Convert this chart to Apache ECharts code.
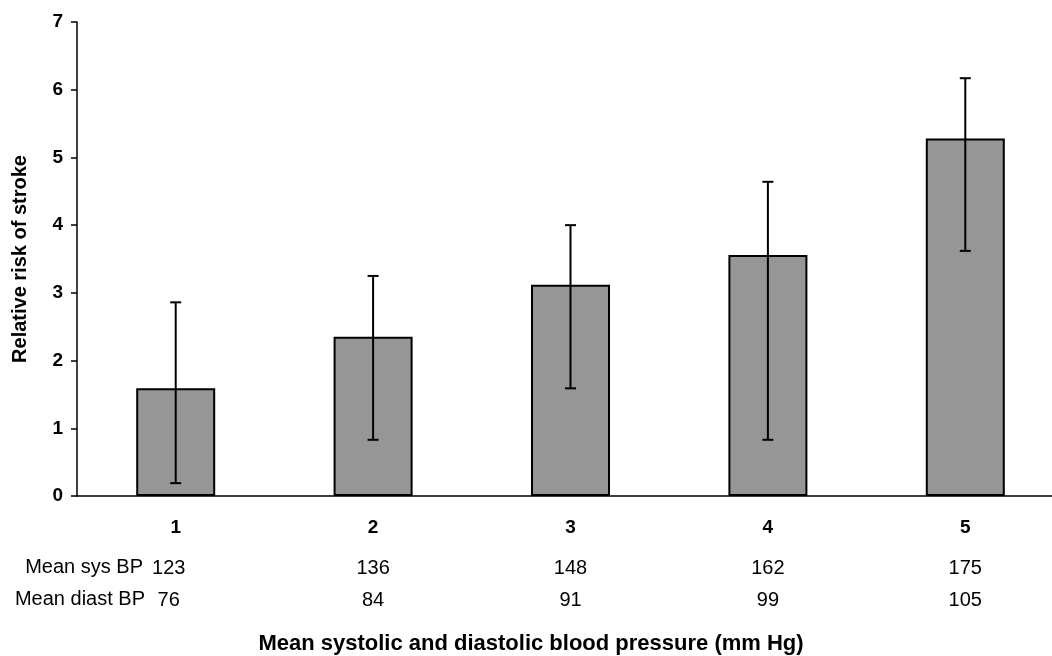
<!DOCTYPE html>
<html>
<head>
<meta charset="utf-8">
<script src="https://cdn.jsdelivr.net/npm/echarts@6/dist/echarts.min.js"></script>
<style>
html,body{margin:0;padding:0;background:#fff;overflow:hidden;}
#chart{width:1064px;height:656px;}
</style>
</head>
<body>
<div id="chart"></div>
<script>
var categories = ['1', '2', '3', '4', '5'];
var relativeRisk = [1.59, 2.35, 3.12, 3.56, 5.28];
var ciLow = [0.19, 0.83, 1.59, 0.83, 3.62];
var ciHigh = [2.86, 3.25, 4.00, 4.64, 6.17];
var meanSysBP = ['123', '136', '148', '162', '175'];
var meanDiastBP = ['76', '84', '91', '99', '105'];
var yTicks = [0, 1, 2, 3, 4, 5, 6, 7];

var FONT = 'Liberation Sans, Arial, Helvetica, sans-serif';
var W = 1064;

var chart = echarts.init(document.getElementById('chart'));

var errData = categories.map(function (c, i) { return [i, ciLow[i], ciHigh[i]]; });

function rowAxis(data, margin) {
  return {
    type: 'category', data: data, gridIndex: 0, position: 'bottom',
    axisLine: { show: false }, axisTick: { show: false },
    axisLabel: {
      margin: margin, color: '#000', fontFamily: FONT, fontSize: 20,
      verticalAlign: 'middle',
      formatter: function (v, i) { return i === 0 ? '{f|' + v + '}' : v; },
      rich: { f: { fontFamily: FONT, fontSize: 20, color: '#000', padding: [0, 14, 0, 0] } }
    }
  };
}

chart.setOption({
  animation: false,
  backgroundColor: '#fff',
  title: {
    text: 'Mean systolic and diastolic blood pressure (mm Hg)',
    left: 526, textAlign: 'center', top: 628,
    textStyle: { fontFamily: FONT, fontSize: 22, fontWeight: 'bold', color: '#000' }
  },
  grid: { left: 77, right: 0, top: 22, bottom: 160, containLabel: false },
  xAxis: [
    {
      type: 'category', data: categories, gridIndex: 0, position: 'bottom',
      axisLine: { lineStyle: { color: '#000', width: 1.5 } },
      axisTick: { show: false },
      axisLabel: { margin: 32, verticalAlign: 'middle', color: '#000', fontFamily: FONT, fontSize: 19, fontWeight: 'bold' }
    },
    rowAxis(meanSysBP, 72),
    rowAxis(meanDiastBP, 104)
  ],
  yAxis: {
    type: 'value', min: 0, max: 7, interval: 1,
    name: 'Relative risk of stroke', nameLocation: 'middle', nameGap: 47,
    nameTextStyle: { fontFamily: FONT, fontSize: 20, fontWeight: 'bold', color: '#000' },
    axisLine: { show: true, lineStyle: { color: '#000', width: 1.5 } },
    axisTick: { show: true, inside: false, length: 6, lineStyle: { color: '#000', width: 1.5 } },
    axisLabel: {
      margin: 14, color: '#000', fontFamily: FONT, fontSize: 19, fontWeight: 'bold',
      formatter: function (v) { return yTicks.indexOf(v) >= 0 ? String(v) : ''; }
    },
    splitLine: { show: false }
  },
  graphic: [
    { type: 'text', right: W - 143, top: 568 - 11,
      style: { text: 'Mean sys BP', font: '20px ' + FONT, fill: '#000', textAlign: 'right' } },
    { type: 'text', right: W - 145, top: 600 - 11,
      style: { text: 'Mean diast BP', font: '20px ' + FONT, fill: '#000', textAlign: 'right' } }
  ],
  series: [
    {
      type: 'bar', xAxisIndex: 0, data: relativeRisk, barWidth: 79,
      itemStyle: { color: '#969696', borderColor: '#000', borderWidth: 2 }
    },
    {
      type: 'custom', xAxisIndex: 0, data: errData, z: 10,
      renderItem: function (params, api) {
        var x = api.value(0);
        var lo = api.coord([x, api.value(1)]);
        var hi = api.coord([x, api.value(2)]);
        var cap = 5.5;
        var st = { stroke: '#000', lineWidth: 2 };
        return {
          type: 'group',
          children: [
            { type: 'line', shape: { x1: lo[0], y1: lo[1], x2: hi[0], y2: hi[1] }, style: st },
            { type: 'line', shape: { x1: hi[0] - cap, y1: hi[1], x2: hi[0] + cap, y2: hi[1] }, style: st },
            { type: 'line', shape: { x1: lo[0] - cap, y1: lo[1], x2: lo[0] + cap, y2: lo[1] }, style: st }
          ]
        };
      }
    }
  ]
});
</script>
</body>
</html>
